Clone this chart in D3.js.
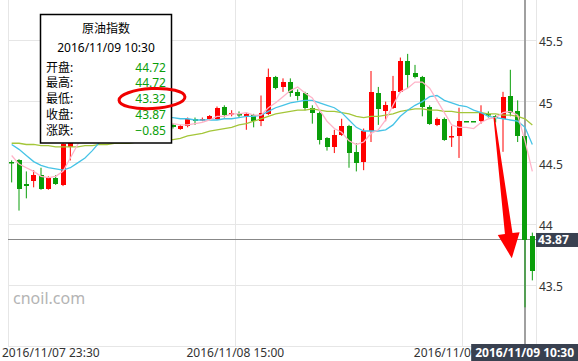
<!DOCTYPE html>
<html>
<head>
<meta charset="utf-8">
<script src="https://cdn.jsdelivr.net/npm/d3@7"></script>
<style>
body{margin:0;background:#fff;}
svg{display:block;font-family:"Noto Sans","Noto Sans CJK SC",sans-serif;}
</style>
</head>
<body>
<div id="chart"></div>
<script>
// 30 minute candles, 2016/11/07 23:30 .. 2016/11/09 11:00
var opens = [44.51,44.52,44.33,44.35,44.40,44.29,44.38,44.32,44.63,44.95,
    44.88,44.93,44.90,44.95,44.92,44.87,44.92,44.89,44.85,44.83,
    44.86,44.82,44.81,44.78,44.80,44.86,44.85,44.86,44.86,44.96,
    44.90,44.90,44.88,44.89,44.84,44.90,45.20,45.12,45.16,45.08,
    45.07,44.95,44.91,44.70,44.63,44.73,44.80,44.59,44.51,44.76,
    45.07,44.92,44.95,45.08,45.33,45.23,45.20,44.96,44.81,44.86,
    44.71,44.72,44.84,44.84,44.84,44.90,44.88,44.86,45.05,44.92,
    44.72,43.90];
var highs = [44.52,44.53,44.43,44.44,44.46,44.39,44.40,44.66,45.01,45.01,
    44.97,44.98,44.97,44.99,44.95,44.94,44.96,44.93,44.90,44.88,
    44.88,44.85,44.82,44.81,44.87,44.87,44.87,44.89,44.96,44.97,
    44.93,44.92,44.91,44.90,45.05,45.27,45.21,45.19,45.19,45.10,
    45.08,44.97,44.92,44.71,44.77,44.86,44.81,44.66,44.78,45.25,
    45.12,45.00,45.21,45.36,45.39,45.30,45.21,44.97,44.87,44.87,
    44.80,44.95,44.84,44.84,44.97,44.92,44.89,45.08,45.26,45.01,
    44.72,43.93];
var lows = [44.34,44.11,44.21,44.30,44.28,44.28,44.32,44.31,44.52,44.85,
    44.83,44.87,44.86,44.88,44.84,44.83,44.87,44.82,44.81,44.79,
    44.80,44.78,44.78,44.77,44.79,44.81,44.84,44.85,44.85,44.87,
    44.88,44.87,44.77,44.79,44.80,44.89,45.10,45.08,45.04,45.01,
    44.93,44.82,44.65,44.60,44.58,44.72,44.46,44.43,44.44,44.67,
    44.81,44.84,44.94,45.07,45.11,45.19,44.88,44.81,44.80,44.68,
    44.63,44.54,44.84,44.84,44.82,44.87,44.83,44.59,44.88,44.67,
    43.32,43.54];
var closes = [44.50,44.29,44.31,44.40,44.29,44.38,44.33,44.65,44.95,44.88,
    44.93,44.90,44.95,44.92,44.87,44.92,44.89,44.85,44.83,44.86,
    44.82,44.80,44.79,44.80,44.86,44.84,44.86,44.88,44.95,44.89,
    44.91,44.89,44.90,44.84,44.91,45.20,45.11,45.16,45.07,45.05,
    44.95,44.91,44.69,44.63,44.73,44.80,44.58,44.50,44.76,45.08,
    44.94,44.97,45.09,45.33,45.22,45.20,44.96,44.82,44.86,44.69,
    44.72,44.84,44.84,44.84,44.91,44.89,44.87,45.04,44.91,44.72,
    43.87,43.62];
// moving average lines
var ma5 = [44.56,44.49,44.46,44.43,44.39,44.38,44.39,44.43,44.54,44.65,
    44.74,44.83,44.90,44.92,44.91,44.91,44.90,44.89,44.87,44.86,
    44.85,44.83,44.82,44.81,44.81,44.82,44.83,44.85,44.88,44.88,
    44.90,44.90,44.91,44.89,44.89,44.95,44.99,45.04,45.09,45.12,
    45.07,45.03,44.93,44.84,44.78,44.75,44.68,44.65,44.67,44.74,
    44.77,44.85,44.97,45.08,45.11,45.16,45.16,45.11,45.01,44.91,
    44.81,44.79,44.79,44.78,44.83,44.86,44.87,44.91,44.92,44.89,
    44.68,44.43];
var ma10 = [44.65,44.61,44.56,44.51,44.48,44.46,44.45,44.44,44.46,44.50,
    44.54,44.60,44.67,44.72,44.78,44.83,44.87,44.88,44.89,44.88,
    44.88,44.87,44.87,44.86,44.86,44.85,44.85,44.85,44.85,44.86,
    44.86,44.87,44.88,44.88,44.89,44.92,44.95,44.97,44.99,45.00,
    45.01,45.01,44.99,44.97,44.95,44.91,44.85,44.79,44.76,44.76,
    44.76,44.77,44.81,44.88,44.93,44.97,45.00,45.04,45.05,45.01,
    44.99,44.97,44.96,44.93,44.91,44.88,44.87,44.86,44.85,44.84,
    44.79,44.65];
var ma20 = [44.66,44.66,44.65,44.65,44.64,44.64,44.63,44.63,44.63,44.63,
    44.64,44.64,44.65,44.65,44.66,44.66,44.66,44.67,44.67,44.68,
    44.68,44.69,44.69,44.70,44.72,44.73,44.74,44.76,44.77,44.78,
    44.79,44.81,44.82,44.84,44.86,44.88,44.90,44.91,44.92,44.93,
    44.93,44.94,44.93,44.92,44.92,44.91,44.90,44.88,44.87,44.88,
    44.88,44.89,44.90,44.92,44.93,44.94,44.94,44.93,44.93,44.92,
    44.92,44.91,44.91,44.91,44.91,44.90,44.90,44.89,44.89,44.88,
    44.86,44.81];
var yTicks = [43, 43.5, 44, 44.5, 45, 45.5];
var xTickIdx = [0, 31, 62];
var xTickLabels = ["2016/11/07 23:30", "2016/11/08 15:00", "2016/11/09 06:30"];
var hoverIdx = 70;
var hoverTime = "2016/11/09 10:30";
var tipTitle = "原油指数";
var tipLabels = ["开盘:", "最高:", "最低:", "收盘:", "涨跌:"];
var arrowFrom = [65.8, 44.87], arrowTo = [68.2, 43.72];

var W = 578, H = 361;
var upColor = "#ff0000", downColor = "#0a9e0a";
var svg = d3.select("#chart").append("svg").attr("width", W).attr("height", H);

var x = d3.scaleLinear().domain([-0.5, opens.length - 0.5]).range([8, 536]);
var y = d3.scaleLinear().domain([43, 45.83]).range([346.5, 0]);
var crisp = function(v){ return Math.floor(v) + 0.5; };

// grid
svg.selectAll("line.hgrid").data(yTicks).enter().append("line")
    .attr("x1", 8).attr("x2", 536)
    .attr("y1", d => crisp(y(d))).attr("y2", d => crisp(y(d)))
    .attr("stroke", "#e6e6e6");
svg.selectAll("line.vgrid").data(xTickIdx.concat([opens.length])).enter().append("line")
    .attr("x1", d => crisp(x(d - 0.5))).attr("x2", d => crisp(x(d - 0.5)))
    .attr("y1", 0).attr("y2", 346.5)
    .attr("stroke", "#e6e6e6");

// watermark
svg.append("text").text("cnoil.com").attr("x", 13).attr("y", 304)
    .attr("font-size", 16).attr("fill", "#b4b4b4");

// crosshair lines (behind the series)
svg.append("line")
    .attr("x1", x(hoverIdx)).attr("x2", x(hoverIdx)).attr("y1", 0).attr("y2", 346.5)
    .attr("stroke", "#a0a0a0").attr("stroke-width", 2);
svg.append("line")
    .attr("x1", 8).attr("x2", 536)
    .attr("y1", crisp(y(closes[hoverIdx]))).attr("y2", crisp(y(closes[hoverIdx])))
    .attr("stroke", "#888");

// candles
var idx = d3.range(opens.length);
var col = i => closes[i] > opens[i] ? upColor : downColor;
var candles = svg.append("g");
candles.selectAll("line").data(idx).enter().append("line")
    .attr("x1", i => x(i)).attr("x2", i => x(i))
    .attr("y1", i => y(highs[i])).attr("y2", i => y(lows[i]))
    .attr("stroke", col).attr("stroke-width", 1);
candles.selectAll("rect").data(idx).enter().append("rect")
    .attr("x", i => Math.round(x(i) - 2.5))
    .attr("width", 5)
    .attr("y", i => Math.round(y(Math.max(opens[i], closes[i]))))
    .attr("height", i => Math.max(1.5, Math.round(y(Math.min(opens[i], closes[i]))) - Math.round(y(Math.max(opens[i], closes[i])))))
    .attr("fill", col);

// MA lines
var line = d3.line().x((d, i) => x(i)).y(d => y(d));
[[ma20, "#a4c639"], [ma10, "#46c3e6"], [ma5, "#ffb3c8"]].forEach(function(s){
    svg.append("path").attr("d", line(s[0])).attr("fill", "none")
        .attr("stroke", s[1]).attr("stroke-width", 1.3);
});

// y axis labels
svg.selectAll("text.ylab").data(yTicks).enter().append("text")
    .text(d => String(d))
    .attr("x", 539).attr("y", d => y(d) + 6)
    .attr("font-size", 12).attr("fill", "#333");

// x axis labels
svg.selectAll("text.xlab").data(xTickIdx).enter().append("text")
    .text((d, i) => xTickLabels[i])
    .attr("x", d => x(d - 0.5)).attr("y", 356.5)
    .attr("text-anchor", "middle")
    .attr("font-size", 12).attr("fill", "#333")
    .each(function(){
        var w = this.getComputedTextLength(), cx = +this.getAttribute("x");
        if(cx - w / 2 < 2){ this.setAttribute("x", 2 + w / 2); }
    });

// crosshair labels
var xl = svg.append("g");
var xlt = xl.append("text").text(hoverTime)
    .attr("font-size", 12).attr("font-weight", "bold").attr("fill", "#fff")
    .attr("text-anchor", "middle").attr("y", 356.5);
var xw = xlt.node().getComputedTextLength() + 8;
var xleft = Math.min(x(hoverIdx) - xw / 2, W - xw);
xl.insert("rect", "text").attr("x", xleft).attr("y", 344).attr("width", xw).attr("height", 17).attr("fill", "#394150");
xlt.attr("x", xleft + xw / 2);

var yc = y(closes[hoverIdx]);
svg.append("rect").attr("x", 536).attr("y", yc - 7).attr("width", W - 536).attr("height", 14).attr("fill", "#394150");
svg.append("text").text(closes[hoverIdx].toFixed(2))
    .attr("x", 538).attr("y", yc + 4.5)
    .attr("font-size", 12).attr("font-weight", "bold").attr("fill", "#fff");

// tooltip
var tip = svg.append("g");
tip.append("rect").attr("x", 40.5).attr("y", 14.5).attr("width", 131).attr("height", 128.5)
    .attr("fill", "#fff").attr("stroke", "#000").attr("stroke-width", 1.5);
tip.append("text").text(tipTitle).attr("x", 106).attr("y", 33)
    .attr("text-anchor", "middle").attr("font-size", 12).attr("fill", "#000");
tip.append("text").text(hoverTime).attr("x", 106).attr("y", 52)
    .attr("text-anchor", "middle").attr("font-size", 12).attr("fill", "#000");
var tipVals = [opens[hoverIdx], highs[hoverIdx], lows[hoverIdx], closes[hoverIdx], closes[hoverIdx] - opens[hoverIdx]];
var rowY = i => 71.5 + i * 15.8;
tipLabels.forEach(function(l, i){
    tip.append("text").text(l).attr("x", 46).attr("y", rowY(i))
        .attr("font-size", 12).attr("fill", "#000");
    tip.append("text").text(d3.format(".2f")(tipVals[i])).attr("x", 166).attr("y", rowY(i))
        .attr("text-anchor", "end").attr("font-size", 12).attr("fill", downColor);
});

// hand drawn marks
svg.append("ellipse").attr("cx", 152).attr("cy", rowY(2) - 4.5).attr("rx", 33).attr("ry", 10)
    .attr("transform", "rotate(-3," + 152 + "," + (rowY(2) - 4.5) + ")")
    .attr("fill", "none").attr("stroke", "#f00000").attr("stroke-width", 3);

var a0 = [x(arrowFrom[0]), y(arrowFrom[1])], a1 = [x(arrowTo[0]), y(arrowTo[1])];
var dx = a1[0] - a0[0], dy = a1[1] - a0[1], len = Math.hypot(dx, dy);
var u = [dx / len, dy / len], n = [-u[1], u[0]];
var base = [a1[0] - 25 * u[0], a1[1] - 25 * u[1]];
var pt = (p, k) => [p[0] + k * n[0], p[1] + k * n[1]];
var pts = [pt(a0, 0.7), pt(base, 3.8), pt(base, 11), a1, pt(base, -11), pt(base, -3.8), pt(a0, -0.7)];
svg.append("polygon").attr("points", pts.map(p => p.join(",")).join(" ")).attr("fill", "#ff0000");
</script>
</body>
</html>
